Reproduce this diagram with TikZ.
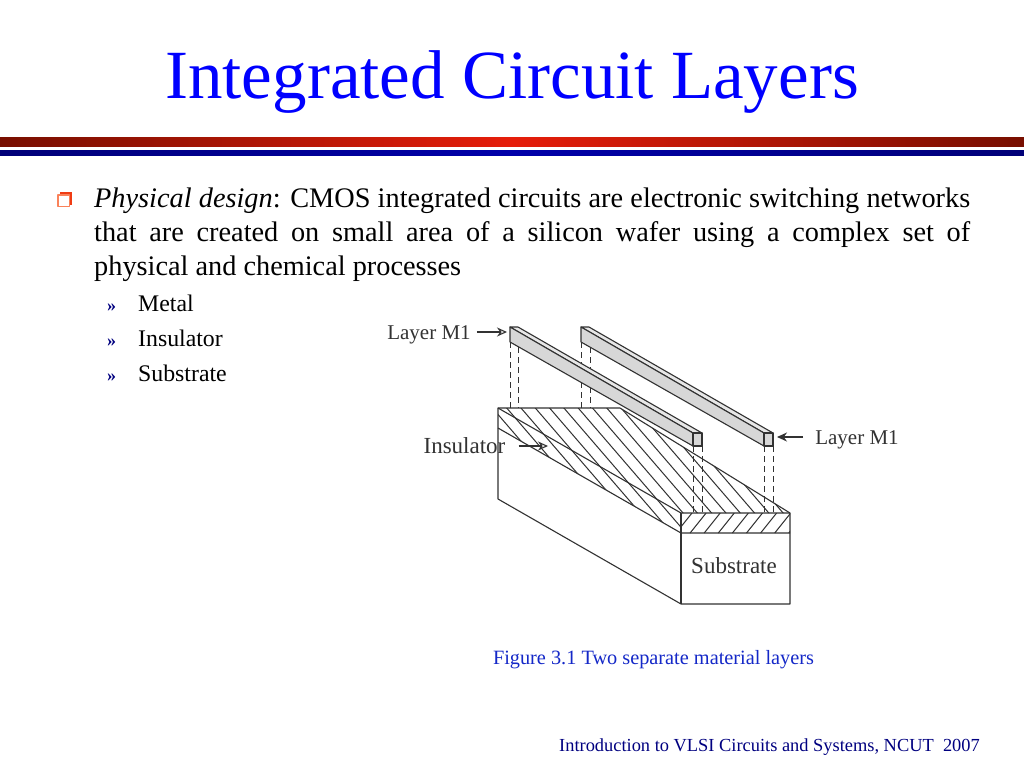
\documentclass[tikz,border=0pt]{standalone}
\usepackage{fontspec}
\setmainfont{Liberation Serif}
\usetikzlibrary{arrows.meta}
\definecolor{titleblue}{RGB}{0,0,255}
\definecolor{footnavy}{RGB}{0,0,128}
\definecolor{captionblue}{RGB}{20,40,200}
\definecolor{sketchink}{RGB}{50,50,50}
\definecolor{railgray}{RGB}{215,215,215}
\definecolor{barred}{RGB}{230,30,10}
\definecolor{bardark}{RGB}{120,15,0}
\definecolor{barblue}{RGB}{0,0,170}
\definecolor{barnavy}{RGB}{0,0,120}
\definecolor{bulletred}{RGB}{240,60,20}
\definecolor{bulletpale}{RGB}{250,130,90}
\tikzset{
 tag/.style={anchor=base,text=sketchink,inner sep=0pt,font=\fontsize{21}{24}\selectfont},
 bigtag/.style={anchor=base,text=sketchink,inner sep=0pt,font=\fontsize{23}{26}\selectfont},
 sub/.style={anchor=base west,inner sep=0pt,font=\fontsize{23.8}{28}\selectfont},
 submark/.style={anchor=base west,inner sep=0pt,text=footnavy,font=\fontsize{18}{22}\selectfont\bfseries},
 solidpart/.style={draw=sketchink,line width=1.1pt,line join=round},
 hatch/.style={draw=sketchink,line width=1pt},
 drop/.style={draw=sketchink,line width=1pt,dash pattern=on 6pt off 4pt},
 openarrow/.style={->,draw=sketchink,line width=1.1pt,>={Stealth[open,length=10pt,width=9pt]}},
 fullarrow/.style={->,draw=sketchink,line width=1.1pt,>={Stealth[length=10pt,width=9pt]}},
}
\begin{document}
\begin{tikzpicture}[x=1pt,y=-1pt,line join=round,>=Stealth]
 \useasboundingbox (0,0) rectangle (1024,768);
 \fill[white] (0,0) rectangle (1024,768);
 \node (title) at (512,98) [anchor=base,text=titleblue,inner sep=0pt,font=\fontsize{69}{74}\selectfont] {Integrated Circuit Layers};
 \shade[left color=bardark,right color=bardark,middle color=barred] (0,137) rectangle (1024,146);
 \shade[left color=barnavy,right color=barnavy,middle color=barblue] (0,150) rectangle (1024,155);
 % bullet
 \fill[bulletred] (60,192) rectangle (72,205);
 \draw[bulletpale,line width=1.5pt,fill=white] (57.8,195) rectangle (69.5,206.3);
 \node (para) at (94,207) [anchor=base west,text width=876pt,inner sep=0pt,align=justify,font=\fontsize{28.3}{34}\selectfont] {\textit{Physical design}: CMOS integrated circuits are electronic switching networks\linebreak that are created on small area of a silicon wafer using a complex set of\linebreak physical and chemical processes};
 \node (mark1) at (107,311) [submark] {»};
 \node (mark2) at (107,346) [submark] {»};
 \node (mark3) at (107,381) [submark] {»};
 \node (metal) at (138,311) [sub] {Metal};
 \node (insul) at (138,346) [sub] {Insulator};
 \node (subst) at (138,381) [sub] {Substrate};
 % block
 \draw[solidpart] (498,408)--(498,499)--(681,604)--(790,604)--(790,513)--(620,408)--cycle;
 \begin{scope}
 \clip (498,408)--(620,408)--(790,513)--(681,513)--(681,533)--(498,428)--cycle;
 \foreach \k in {-12,...,22}
  \draw[hatch] ({521+14.3*\k-30},{408-34.8})--({521+14.3*\k+130},{408+150.8});
 \end{scope}
 \begin{scope}
 \clip (681,513) rectangle (790,533);
 \foreach \k in {0,...,8}
  \draw[hatch] ({676+14.1*\k},533)--({692+14.1*\k},513);
 \end{scope}
 \draw[solidpart] (498,408)--(681,513)--(790,513);
 \draw[solidpart] (498,428)--(681,533)--(790,533);
 \draw[solidpart] (681,513)--(681,604);
 % dashed drops
 \draw[drop] (510,342)--(510,408);
 \draw[drop] (518,347)--(518,408);
 \draw[drop] (581,342)--(581,408);
 \draw[drop] (590,347)--(590,408);
 \draw[drop] (693,446)--(693,513);
 \draw[drop] (702,446)--(702,513);
 \draw[drop] (764,446)--(764,513);
 \draw[drop] (773,446)--(773,513);
 % rails
 \foreach \dx in {0,71}{
  \draw[solidpart,fill=railgray!60] (510+\dx,327)--(518+\dx,327)--(702+\dx,433)--(693+\dx,433)--cycle;
  \draw[solidpart,fill=railgray] (510+\dx,327)--(693+\dx,433)--(693+\dx,446)--(510+\dx,342)--cycle;
  \draw[solidpart,fill=railgray] (693+\dx,433)--(702+\dx,433)--(702+\dx,446)--(693+\dx,446)--cycle;
 }
 % labels
 \node (layera) at (429,339) [tag] {Layer M1};
 \node (layerb) at (857,444) [tag] {Layer M1};
 \node (insulator) at (464.5,453) [bigtag] {Insulator};
 \node (substrate) at (734,573) [bigtag] {Substrate};
 \coordinate (tipa) at (507,332);
 \coordinate (tipb) at (777,437);
 \coordinate (tipc) at (548,446);
 \draw[openarrow] ([xshift=6pt]layera.east |- tipa)--(tipa);
 \draw[fullarrow] ([xshift=-12pt]layerb.west |- tipb)--(tipb);
 \draw[openarrow] ([xshift=13pt]insulator.east |- tipc)--(tipc);
 \node (caption) at (653.5,664) [anchor=base,text=captionblue,inner sep=0pt,font=\fontsize{20.3}{24}\selectfont] {Figure 3.1 Two separate material layers};
 \node (footer) at (980,751) [anchor=base east,text=footnavy,inner sep=0pt,font=\fontsize{18.4}{22}\selectfont] {Introduction to VLSI Circuits and Systems, NCUT\ \ 2007};
\end{tikzpicture}
\end{document}
